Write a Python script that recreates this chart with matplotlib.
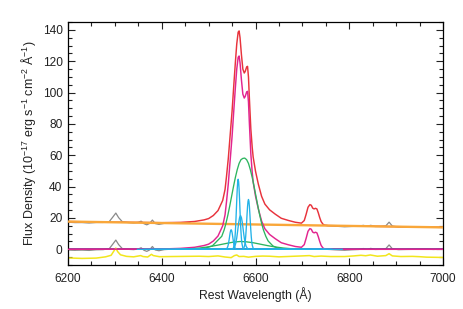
import numpy as np
import matplotlib.pyplot as plt
from matplotlib.ticker import MultipleLocator

plt.rcParams['font.family'] = ['Liberation Sans', 'DejaVu Sans']
plt.rcParams['mathtext.fontset'] = 'custom'
plt.rcParams['mathtext.rm'] = 'Liberation Sans'

# continuum fit (orange)
cont_wl = [6200, 7000]
cont_fx = [17.7, 14.0]

# data minus continuum (gray), only where it is not hidden by the model
gray_wl_left = [6200, 6215, 6230, 6245, 6260, 6275, 6288, 6296, 6302, 6308, 6316, 6328,
                6340, 6350, 6356, 6362, 6368, 6374, 6380, 6386, 6394, 6405, 6420, 6440, 6460]
gray_fx_left = [-0.4, -0.6, -0.5, -0.7, -0.3, -0.2, 0.4, 3.5, 5.9, 3.0, 0.4, 0.0,
                -0.2, 0.2, 1.0, -0.6, -1.3, -0.4, 1.8, -0.4, -0.9, -0.2, 0.1, 0.3, 0.5]
gray_wl_right = [6750, 6770, 6790, 6805, 6820, 6830, 6838, 6846, 6855, 6868, 6878, 6885,
                 6892, 6905, 6920, 6940, 6960, 6980, 7000]
gray_fx_right = [0.1, -0.3, -0.6, -0.3, -0.1, 0.5, 0.0, 0.6, -0.1, 0.0, 0.4, 2.8,
                 0.3, -0.2, -0.1, 0.0, 0.2, -0.1, 0.2]

# total line model (magenta); red = magenta + continuum
mag_wl = [6200, 6400, 6440, 6470, 6490, 6500, 6510, 6520, 6530, 6535, 6538, 6542, 6546,
          6550, 6554, 6557, 6560, 6563, 6565, 6567, 6570, 6573, 6576, 6578, 6581, 6583,
          6585, 6587, 6590, 6593, 6595, 6600, 6606, 6613, 6620, 6630, 6642, 6655, 6670,
          6685, 6698, 6704, 6708, 6712, 6716, 6719, 6722, 6725, 6728, 6731, 6734, 6737,
          6740, 6744, 6748, 6755, 6800, 7000]
mag_fx = [0, 0.2, 0.6, 1.3, 2.4, 3.3, 5.3, 8.5, 15, 22, 30, 42, 57,
          72, 90, 103, 115, 122.5, 123.3, 119, 108, 99, 96.5, 97.5, 100.3, 100.8,
          94, 80, 61, 49, 43, 34, 25.8, 18, 13.1, 9.5, 6.8, 4.2, 2.9,
          1.8, 1.3, 3.0, 7.0, 11.5, 13.2, 12.8, 11.0, 10.5, 10.9, 10.5, 8.0, 5.0,
          2.5, 0.8, 0.2, 0, 0, 0]

# broad components (green)
broad1_wl = [6450, 6478, 6493, 6508, 6518, 6528, 6533, 6537, 6541, 6545, 6549, 6553, 6557,
             6561, 6565, 6569, 6573, 6577, 6581, 6585, 6589, 6593, 6597, 6601, 6605,
             6609, 6613, 6617, 6622, 6627, 6637, 6647, 6662, 6677, 6705]
broad1_fx = [0, 0.2, 0.8, 2.2, 5.3, 8.3, 12.3, 16.6, 21.8, 27.6, 33.8, 40.0, 45.8,
             50.8, 54.8, 57.2, 58.0, 58.2, 57.2, 54.8, 50.8, 45.8, 40.0, 33.8, 27.6,
             21.8, 16.6, 12.3, 8.3, 5.3, 2.2, 0.8, 0.2, 0, 0]
broad2_wl = [6440, 6460, 6480, 6500, 6520, 6540, 6555, 6568, 6580, 6595, 6610, 6625,
             6640, 6660, 6680, 6700, 6710]
broad2_fx = [0, 0.3, 0.8, 1.6, 2.7, 3.9, 4.7, 5.0, 4.8, 4.2, 3.3, 2.4,
             1.6, 0.8, 0.3, 0.1, 0]

# narrow components (cyan): offsets from line centre and fluxes
narrow_dl = [-200, -12, -10, -8, -7, -6, -5, -4, -3, -2, -1, 0,
             1, 2, 3, 4, 5, 6, 7, 8, 10, 12, 200]
nii_a_fx = [0, 0, 0.3, 1.1, 1.9, 3.1, 4.8, 6.7, 8.8, 10.7, 12.0, 12.5,
            12.0, 10.7, 8.8, 6.7, 4.8, 3.1, 1.9, 1.1, 0.3, 0, 0]
ha_n_fx = [0, 0.2, 0.9, 3.8, 6.7, 11.1, 17.0, 24.1, 31.6, 38.3, 43.0, 44.7,
           43.0, 38.3, 31.6, 24.1, 17.0, 11.1, 6.7, 3.8, 0.9, 0.2, 0]
nii_b_fx = [0, 0.1, 0.7, 2.7, 4.8, 7.9, 12.1, 17.1, 22.5, 27.3, 30.6, 31.8,
            30.6, 27.3, 22.5, 17.1, 12.1, 7.9, 4.8, 2.7, 0.7, 0.1, 0]
narrow_centres = [6548, 6563, 6585]
ha_m_wl = [6430, 6550, 6553, 6556, 6558, 6560, 6562, 6564, 6566, 6568, 6570, 6572, 6574,
           6576, 6578, 6580, 6583, 6586, 6760]
ha_m_fx = [0, 0.1, 0.5, 1.9, 4.0, 7.3, 11.9, 16.8, 20.2, 21.6, 20.2, 16.8, 11.9,
           7.3, 4.0, 1.9, 0.5, 0.1, 0]

# fit residual (yellow)
res_wl = [6200, 6230, 6260, 6280, 6292, 6298, 6302, 6306, 6312, 6325, 6340, 6355, 6360,
          6370, 6378, 6382, 6395, 6420, 6450, 6480, 6500, 6520, 6535, 6548, 6555, 6560,
          6565, 6575, 6585, 6600, 6615, 6630, 6650, 6675, 6700, 6715, 6725, 6740, 6760,
          6790, 6810, 6825, 6835, 6845, 6860, 6878, 6885, 6892, 6910, 6935, 6950, 6965,
          6985, 7000]
res_fx = [-5.5, -5.8, -5.6, -4.8, -3.8, -1.0, 0.8, -1.5, -3.5, -4.5, -4.8, -4.0, -4.6,
          -4.9, -3.2, -4.0, -4.7, -4.6, -4.5, -4.4, -4.6, -4.2, -4.9, -5.3, -4.0, -3.6,
          -4.6, -4.5, -5.0, -4.5, -4.3, -4.4, -4.8, -4.5, -4.2, -4.0, -4.6, -4.3, -4.6,
          -4.6, -4.2, -3.8, -4.1, -3.6, -4.4, -4.0, -2.8, -4.2, -4.6, -4.5, -4.7, -5.0,
          -5.1, -5.2]

fig = plt.figure(figsize=(4.63, 3.09), dpi=100)
ax = fig.add_axes([0.1469, 0.1424, 0.8099, 0.7864])

gray_c = '#8a8a8a'
for wl, fx in [(gray_wl_left, gray_fx_left), (gray_wl_right, gray_fx_right)]:
    ax.plot(wl, fx, color=gray_c, lw=0.9, zorder=1)
    ax.plot(wl, np.array(fx) + np.interp(wl, cont_wl, cont_fx), color=gray_c, lw=0.9, zorder=1)

ax.plot(mag_wl, np.array(mag_fx) + np.interp(mag_wl, cont_wl, cont_fx), color='#e8333c', lw=1.05, zorder=2)
ax.plot(cont_wl, cont_fx, color='#f9a73a', lw=1.7, zorder=3)
ax.axhline(0, color='#7b3b98', lw=1.3, zorder=2)
ax.plot(mag_wl, mag_fx, color='#e2258f', lw=1.05, zorder=3)
ax.plot(res_wl, res_fx, color='#f2e61c', lw=1.1, zorder=2)

green = '#2cb55e'
ax.plot(broad2_wl, broad2_fx, color=green, lw=0.95, zorder=4)
ax.plot(broad1_wl, broad1_fx, color=green, lw=0.95, zorder=4)

cyan = '#22b2e8'
ax.plot(ha_m_wl, ha_m_fx, color=cyan, lw=0.95, zorder=5)
for c, fx in zip(narrow_centres, [nii_a_fx, ha_n_fx, nii_b_fx]):
    ax.plot(np.array(narrow_dl) + c, fx, color=cyan, lw=0.95, zorder=5)

ax.set_xlim(6200, 7000)
ax.set_ylim(-10, 145)
ax.xaxis.set_major_locator(MultipleLocator(200))
ax.xaxis.set_minor_locator(MultipleLocator(50))
ax.yaxis.set_major_locator(MultipleLocator(20))
ax.yaxis.set_minor_locator(MultipleLocator(5))
ax.tick_params(which='both', direction='in', top=True, right=True, width=0.8, labelsize=8.6, colors='#222222')
ax.tick_params(which='major', length=5, pad=4)
ax.tick_params(axis='x', which='major', pad=6)
ax.tick_params(which='minor', length=3)
for s in ax.spines.values():
    s.set_linewidth(0.9)

ax.set_xlabel('Rest Wavelength (Å)', fontsize=8.8, color='#222222', labelpad=1)
ax.set_ylabel(r'Flux Density (10$^{-17}$ erg s$^{-1}$ cm$^{-2}$ Å$^{-1}$)', fontsize=9, color='#222222', labelpad=3)

fig.savefig('out.png', dpi=100)
